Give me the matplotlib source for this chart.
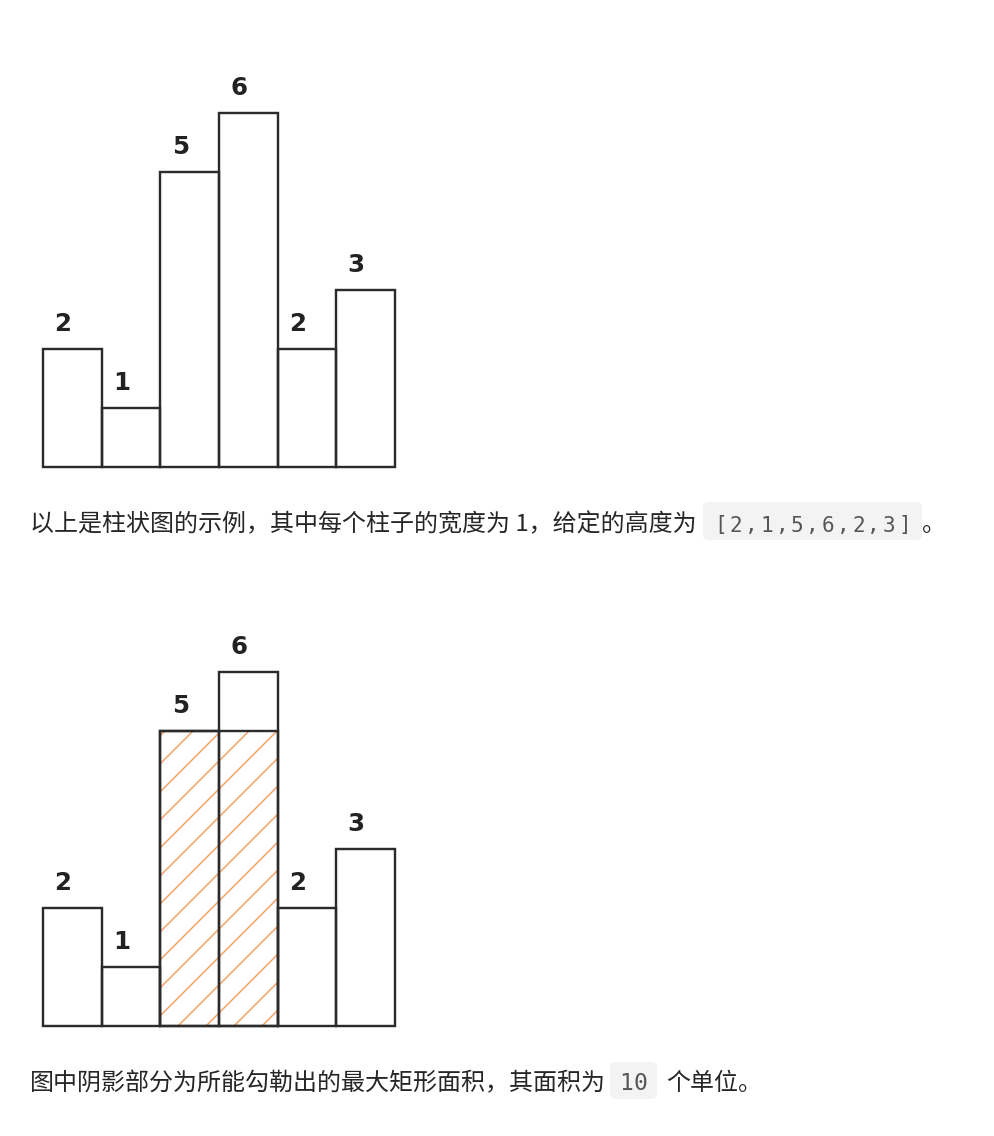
import matplotlib
matplotlib.use("Agg")
import matplotlib.pyplot as plt
from matplotlib.patches import FancyBboxPatch

# data
heights = [2, 1, 5, 6, 2, 3]
labels = [str(h) for h in heights]
best_left = 2      # first bar of the largest rectangle
best_width = 2
best_height = 5
best_area = best_width * best_height

caption1 = "以上是柱状图的示例，其中每个柱子的宽度为 1，给定的高度为"
code1 = "[" + ",".join(str(h) for h in heights) + "]"
tail1 = "。"
caption2 = "图中阴影部分为所能勾勒出的最大矩形面积，其面积为"
code2 = str(best_area)
tail2 = "个单位。"

W, H, DPI = 994, 1136, 168


def pt(px):
    # pixel size -> points at this dpi
    return px * 72 / DPI


EDGE = "#2b2b2b"
HATCH = "#f5a56e"
CJK = ["Noto Sans CJK SC", "DejaVu Sans"]
UNIT_X = 352 / 6
UNIT_Y = 59

plt.rcParams["hatch.linewidth"] = pt(1.6)
fig = plt.figure(figsize=(W / DPI, H / DPI), dpi=DPI)
fig.patch.set_facecolor("white")


def draw_chart(baseline, shade):
    ax = fig.add_axes([43 / W, 1 - baseline / H, 6 * UNIT_X / W, 7 * UNIT_Y / H])
    ax.set_xlim(0, len(heights))
    ax.set_ylim(0, 7)
    ax.axis("off")
    x = list(range(len(heights)))
    if shade:
        ax.bar(best_left, best_height, width=best_width, align="edge",
               facecolor="none", edgecolor=HATCH, linewidth=0, hatch="//",
               clip_on=False, zorder=1)
    ax.bar(x, heights, width=1, align="edge", facecolor="none",
           edgecolor=EDGE, linewidth=pt(2.4), clip_on=False, zorder=2)
    if shade:
        ax.bar(best_left, best_height, width=best_width, align="edge",
               facecolor="none", edgecolor=EDGE, linewidth=pt(2.4),
               clip_on=False, zorder=3)
    for i, (h, lab) in enumerate(zip(heights, labels)):
        ax.text(i + 0.34, h + 0.42, lab, ha="center", va="center",
                fontsize=pt(24.5), fontweight="bold", color="#222222",
                family="DejaVu Sans", clip_on=False)


draw_chart(466.5, False)
draw_chart(1026, True)

# text layer in pixel coordinates
tx = fig.add_axes([0, 0, 1, 1], zorder=-1)
tx.set_xlim(0, W)
tx.set_ylim(H, 0)
tx.axis("off")


def code_box(x0, y0, w, h, text, size, adv, base):
    tx.add_patch(FancyBboxPatch((x0, y0), w, h,
                                boxstyle="round,pad=0,rounding_size=6",
                                facecolor="#f3f3f3", edgecolor="none"))
    c = x0 + w / 2
    n = len(text)
    for i, ch in enumerate(text):
        tx.text(c + (i - (n - 1) / 2) * adv, base, ch, ha="center",
                va="baseline", fontsize=pt(size), color="#555555",
                family="DejaVu Sans Mono")


tx.text(30, 531, caption1, fontsize=pt(24), family=CJK, color="#262626",
        va="baseline", ha="left")
code_box(703, 502, 219, 38, code1, 21, 15.3, 531.5)
tx.text(922, 531, tail1, fontsize=pt(24), family=CJK, color="#262626",
        va="baseline", ha="left")

tx.text(30, 1090, caption2, fontsize=pt(24), family=CJK, color="#262626",
        va="baseline", ha="left")
code_box(610, 1062, 47, 37, code2, 23, 14, 1090)
tx.text(666, 1090, tail2, fontsize=pt(24), family=CJK, color="#262626",
        va="baseline", ha="left")

fig.savefig("out.png", dpi=DPI, facecolor="white")
